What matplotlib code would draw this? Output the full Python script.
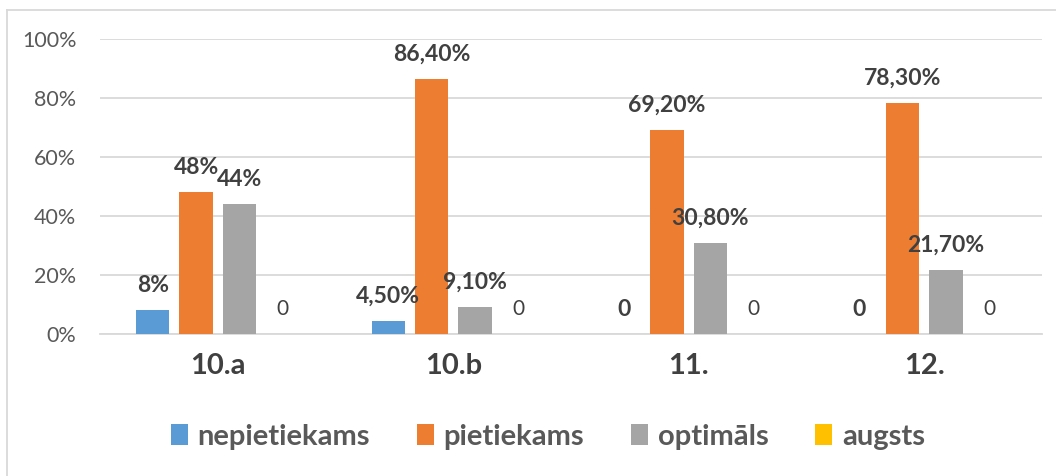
import matplotlib
matplotlib.use("Agg")
import matplotlib.pyplot as plt
import numpy as np

plt.rcParams['font.family'] = ['Lato', 'DejaVu Sans']

categories = ["10.a", "10.b", "11.", "12."]
series_names = ["nepietiekams", "pietiekams", "optimāls", "augsts"]
nepietiekams = [0.08, 0.045, 0.0, 0.0]
pietiekams = [0.48, 0.864, 0.692, 0.783]
optimals = [0.44, 0.091, 0.308, 0.217]
augsts = [0.0, 0.0, 0.0, 0.0]
labels_nep = ["8%", "4,50%", "0", "0"]
labels_pie = ["48%", "86,40%", "69,20%", "78,30%"]
labels_opt = ["44%", "9,10%", "30,80%", "21,70%"]
labels_aug = ["0", "0", "0", "0"]
yticks = [0, 0.2, 0.4, 0.6, 0.8, 1.0]
ytick_labels = ["0%", "20%", "40%", "60%", "80%", "100%"]

colors = ["#5B9BD5", "#ED7D31", "#A5A5A5", "#FFC000"]
values = [nepietiekams, pietiekams, optimals, augsts]
labels = [labels_nep, labels_pie, labels_opt, labels_aug]
bold = [True, True, True, False]

W, H = 1056, 476
fig = plt.figure(figsize=(W / 100, H / 100), dpi=100)
ax = fig.add_axes([100 / W, (H - 334) / H, (1042 - 100) / W, (334 - 39) / H])

x = np.arange(len(categories))
step = 0.184
width = 0.141
for i, (vals, col, labs, b) in enumerate(zip(values, colors, labels, bold)):
    pos = x + (i - 1.5) * step
    ax.bar(pos, vals, width=width, color=col, label=series_names[i], zorder=3)
    for p, v, t in zip(pos, vals, labs):
        ax.annotate(t, (p, v), xytext=(0, 25), textcoords="offset pixels",
                    ha="center", va="center", fontsize=16.5 if b else 15,
                    fontweight="bold" if b else "normal",
                    color="#404040", zorder=4)

ax.set_xlim(-0.5, len(categories) - 0.5)
ax.set_ylim(0, 1.0)
ax.set_yticks(yticks)
ax.set_yticklabels(ytick_labels, fontsize=15.5, color="#595959")
ax.set_xticks(x)
ax.set_xticklabels(categories, fontsize=21, fontweight="bold", color="#404040")
ax.tick_params(axis="y", length=0, pad=17)
ax.tick_params(axis="x", length=0, pad=14)
ax.grid(axis="y", color="#D9D9D9", linewidth=1.3, zorder=0)
for s in ["top", "right", "left"]:
    ax.spines[s].set_visible(False)
ax.spines["bottom"].set_color("#D9D9D9")
ax.spines["bottom"].set_linewidth(1.3)

# chart frame (top and left edges visible)
fig.add_artist(plt.Line2D([7 / W, 1.0], [1 - 10 / H, 1 - 10 / H], transform=fig.transFigure,
                          color="#D9D9D9", linewidth=1.3))
fig.add_artist(plt.Line2D([7 / W, 7 / W], [0, 1 - 10 / H], transform=fig.transFigure,
                          color="#D9D9D9", linewidth=1.3))

leg = fig.legend(loc="center", bbox_to_anchor=(548 / W, 1 - 437 / H), ncol=4, frameon=False,
                 handlelength=0.58, handleheight=0.72, handletextpad=0.34, columnspacing=1.6,
                 prop={"size": 21, "weight": "bold"})
for t in leg.get_texts():
    t.set_color("#595959")

fig.savefig("out.png", dpi=100)
